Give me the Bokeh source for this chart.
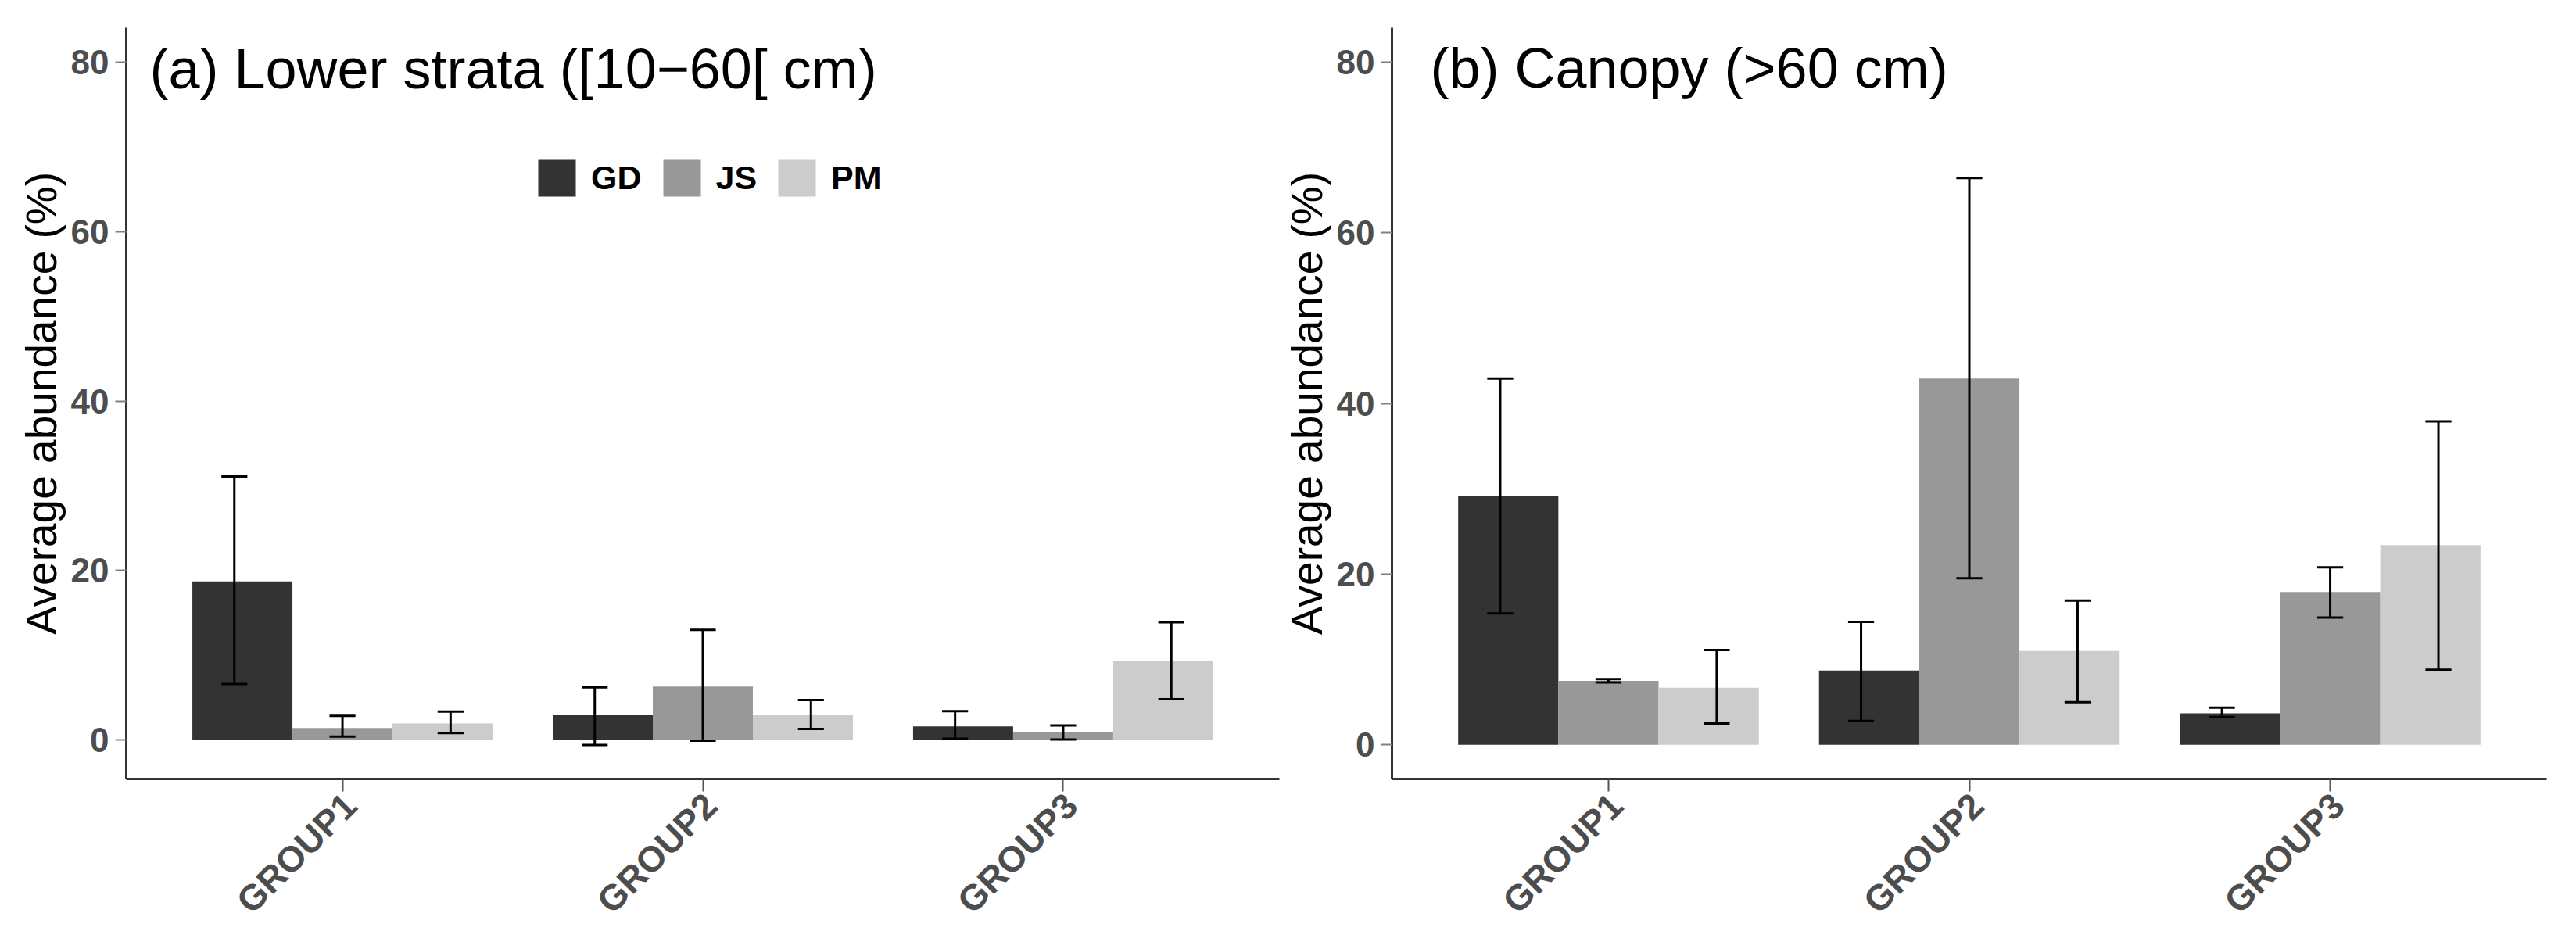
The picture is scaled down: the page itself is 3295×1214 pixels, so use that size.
import math
from bokeh.plotting import figure
from bokeh.models import (ColumnDataSource, Range1d, FixedTicker, Label, Legend,
                          LegendItem, LinearAxis)
from bokeh.transform import dodge
from bokeh.layouts import row
from bokeh.embed import file_html
from bokeh.resources import INLINE

# ---------------- data ----------------
groups = ["GROUP1", "GROUP2", "GROUP3"]
group_pos = [1, 2, 3]
series = ["GD", "JS", "PM"]
colors = ["#333333", "#989898", "#CCCCCC"]

# (a) Lower strata ([10-60[ cm)
lower_gd = [18.7, 2.9, 1.6]
lower_gd_lo = [6.6, -0.6, 0.15]
lower_gd_hi = [31.1, 6.2, 3.4]
lower_js = [1.4, 6.3, 0.9]
lower_js_lo = [0.4, -0.1, 0.06]
lower_js_hi = [2.85, 13.0, 1.7]
lower_pm = [1.95, 2.9, 9.3]
lower_pm_lo = [0.8, 1.3, 4.8]
lower_pm_hi = [3.35, 4.7, 13.9]

# (b) Canopy (>60 cm)
canopy_gd = [29.2, 8.7, 3.7]
canopy_gd_lo = [15.4, 2.8, 3.25]
canopy_gd_hi = [42.9, 14.4, 4.35]
canopy_js = [7.5, 42.9, 17.9]
canopy_js_lo = [7.3, 19.5, 14.9]
canopy_js_hi = [7.7, 66.4, 20.8]
canopy_pm = [6.7, 11.0, 23.4]
canopy_pm_lo = [2.5, 5.0, 8.8]
canopy_pm_hi = [11.1, 16.9, 37.9]

y_ticks = [0, 20, 40, 60, 80]
y_label = "Average abundance (%)"
titles = ["(a) Lower strata ([10\u221260[ cm)", "(b) Canopy (>60 cm)"]

FONT = "Liberation Sans"
BAR_W = 0.2777
BAR_OFF = [-0.2777, 0.0, 0.2777]
ERR_OFF = [-0.3, 0.0, 0.3]
CAP_W = 0.072
LABEL_SHIFT = 0.0217   # rotated labels hang from their top-right corner


def make_panel(vals, los, his, title, yr, legend, mb_left, mb_right, frame_w, title_x, title_y):
    data = dict(x=group_pos)
    for s, v, lo, hi in zip(series, vals, los, his):
        data[s] = v
        data[s + "_lo"] = lo
        data[s + "_hi"] = hi
    src = ColumnDataSource(data)

    p = figure(frame_width=frame_w, frame_height=961,
               x_range=Range1d(0.4, 3.6), y_range=Range1d(*yr),
               output_backend="svg", toolbar_location=None,
               min_border_left=mb_left, min_border_right=mb_right,
               min_border_top=35, min_border_bottom=185)
    p.background_fill_color = "white"
    p.border_fill_color = "white"
    p.outline_line_color = None
    p.xgrid.visible = False
    p.ygrid.visible = False

    renderers = []
    for s, c, bo in zip(series, colors, BAR_OFF):
        r = p.vbar(x=dodge("x", bo), top=s, bottom=0, width=BAR_W, source=src,
                   fill_color=c, line_color=None)
        renderers.append(r)
    for s, eo in zip(series, ERR_OFF):
        p.segment(x0=dodge("x", eo), x1=dodge("x", eo), y0=s + "_lo", y1=s + "_hi",
                  source=src, line_color="black", line_width=3)
        for end in ("_lo", "_hi"):
            p.segment(x0=dodge("x", eo - CAP_W / 2), x1=dodge("x", eo + CAP_W / 2),
                      y0=s + end, y1=s + end, source=src,
                      line_color="black", line_width=3)

    # x axis: line + ticks (labels drawn by a second, line-less axis)
    xa = p.xaxis[0]
    xa.ticker = FixedTicker(ticks=group_pos)
    xa.major_label_overrides = {gp: "" for gp in group_pos}
    xa.major_label_standoff = 0
    xa.major_label_text_font_size = "1px"
    xa.axis_line_color = "#333333"
    xa.axis_line_width = 3
    xa.major_tick_in = 0
    xa.major_tick_out = 16
    xa.major_tick_line_color = "#555555"
    xa.major_tick_line_width = 2
    xa.minor_tick_line_color = None

    lab_pos = [gp + LABEL_SHIFT for gp in group_pos]
    xl = LinearAxis(ticker=FixedTicker(ticks=lab_pos),
                    major_label_overrides={lp: g for lp, g in zip(lab_pos, groups)},
                    axis_line_color=None, major_tick_line_color=None,
                    minor_tick_line_color=None, major_tick_in=0, major_tick_out=0,
                    major_label_orientation=math.pi / 4, major_label_standoff=10,
                    major_label_text_font=FONT, major_label_text_font_style="bold",
                    major_label_text_font_size="46px", major_label_text_color="#4D4D4D")
    p.add_layout(xl, "below")

    ya = p.yaxis[0]
    ya.ticker = FixedTicker(ticks=y_ticks)
    ya.axis_label = y_label
    ya.axis_line_color = "#333333"
    ya.axis_line_width = 3
    ya.major_tick_in = 0
    ya.minor_tick_line_color = None
    ya.major_label_text_font = FONT
    ya.major_label_text_font_style = "bold"
    ya.major_label_text_font_size = "44px"
    ya.major_label_text_color = "#4D4D4D"
    ya.major_tick_out = 14
    ya.major_tick_line_color = "#808080"
    ya.major_tick_line_width = 2
    ya.major_label_standoff = 8
    ya.axis_label_text_font = FONT
    ya.axis_label_text_font_style = "normal"
    ya.axis_label_text_font_size = "55px"
    ya.axis_label_text_color = "black"
    ya.axis_label_standoff = 4

    p.add_layout(Label(x=title_x, y=title_y, text=title, text_font=FONT,
                       text_font_size="72px", text_color="black",
                       text_baseline="middle", text_align="left"))

    if legend:
        lg = Legend(items=[LegendItem(label=s, renderers=[r]) for s, r in zip(series, renderers)],
                    location=(521, 739), orientation="horizontal",
                    glyph_width=60, glyph_height=59, label_standoff=14, spacing=21,
                    padding=0, margin=0, border_line_color=None,
                    background_fill_alpha=0,
                    label_text_font=FONT, label_text_font_size="43px",
                    label_text_font_style="bold", label_text_color="black")
        p.add_layout(lg, "center")
    return p


p1 = make_panel([lower_gd, lower_js, lower_pm],
                [lower_gd_lo, lower_js_lo, lower_pm_lo],
                [lower_gd_hi, lower_js_hi, lower_pm_hi],
                titles[0], (-4.61, 84.06), True, 161, 1, 1475, 0.465, 79.26)
p2 = make_panel([canopy_gd, canopy_js, canopy_pm],
                [canopy_gd_lo, canopy_js_lo, canopy_pm_lo],
                [canopy_gd_hi, canopy_js_hi, canopy_pm_hi],
                titles[1], (-4.0, 84.0), False, 138, 20, 1477, 0.506, 79.3)

layout = row(p1, p2)
open("out.html", "w").write(file_html(layout, INLINE))
